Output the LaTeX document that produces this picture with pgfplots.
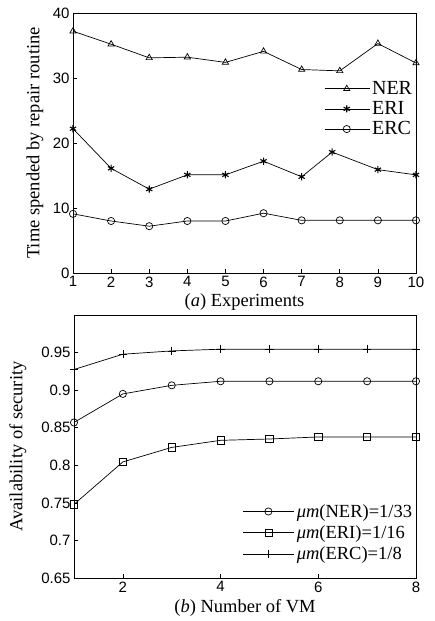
\documentclass[border=0pt]{standalone}
\usepackage{fontspec}
\setmainfont{Liberation Serif}
\newfontfamily\arial{Liberation Sans}
\usepackage{pgfplots}
\pgfplotsset{compat=1.18}

\newcommand\labfont{\fontsize{18.5}{19}\selectfont}
\pgfplotsset{panel/.style={
  scale only axis,
  axis line style={line width=0.9pt},
  tick align=inside, xtick pos=left, ytick pos=left,
  major tick length=4pt,
  tick style={line width=0.7pt, black},
  tick label style={font=\arial\fontsize{15}{15}\selectfont},
  /pgf/number format/assume math mode=true,
  legend style={draw=none, fill=none, inner sep=0pt},
  legend cell align={left},
  every axis plot/.append style={black, line width=0.7pt, mark size=3.6pt, mark options={solid, fill=white}},
  clip=false,
}}

\begin{document}
\begin{tikzpicture}[x=1pt, y=1pt]
\useasboundingbox (0,0) rectangle (435,621);

% (a) repair routine time
\begin{axis}[
  panel,
  at={(73pt,348pt)}, anchor=south west,
  width=343pt, height=260pt,
  xmin=1, xmax=10, ymin=0, ymax=40,
  xtick={1,2,...,10}, ytick={0,10,20,30,40},
  xlabel={(\textit{a}) Experiments},
  ylabel={Time spended by repair routine},
  every axis y label/.style={at={(axis description cs:-0.111,0.5)}, rotate=90, anchor=center, font=\labfont},
  every axis x label/.style={at={(axis description cs:0.5,-0.11)}, anchor=center, font=\labfont},
  legend style={at={(0.995,0.745)}, anchor=north east, row sep=1.5pt, font=\fontsize{20}{21}\selectfont},
  legend image code/.code={
    \draw[mark repeat=2, mark phase=2, #1] plot coordinates {(0pt,0pt) (22pt,0pt) (45pt,0pt)};},
]
\addplot[mark=triangle] coordinates {
  (1,37.2) (2,35.2) (3,33.1) (4,33.2) (5,32.4) (6,34.1) (7,31.3) (8,31.1) (9,35.3) (10,32.3)
};
\addlegendentry{NER}
\addplot[mark=asterisk, mark options={line width=1.1pt}] coordinates {
  (1,22.2) (2,16.1) (3,12.9) (4,15.1) (5,15.1) (6,17.2) (7,14.8) (7.8,18.6) (9,15.9) (10,15.1)
};
\addlegendentry{ERI}
\addplot[mark=o] coordinates {
  (1,9.1) (2,8.0) (3,7.2) (4,8.0) (5,8.0) (6,9.2) (7,8.1) (8,8.1) (9,8.1) (10,8.1)
};
\addlegendentry{ERC}
\end{axis}

% (b) availability of security
\begin{axis}[
  panel,
  at={(74pt,43pt)}, anchor=south west,
  width=342pt, height=263pt,
  xmin=1, xmax=8, ymin=0.65, ymax=1.0,
  xtick={2,4,6,8}, ytick={0.65,0.7,0.75,0.8,0.85,0.9,0.95},
  yticklabel style={/pgf/number format/fixed, /pgf/number format/precision=2},
  xlabel={(\textit{b}) Number of VM},
  ylabel={Availability of security},
  every axis y label/.style={at={(axis description cs:-0.164,0.5)}, rotate=90, anchor=center, font=\labfont},
  every axis x label/.style={at={(axis description cs:0.5,-0.114)}, anchor=center, font=\labfont},
  legend style={at={(0.995,0.055)}, anchor=south east, row sep=3pt, font=\fontsize{18.5}{19.5}\selectfont},
  legend image code/.code={
    \draw[mark repeat=2, mark phase=2, #1] plot coordinates {(0pt,0pt) (25pt,0pt) (51pt,0pt)};},
]
\addplot[mark=o] coordinates {
  (1,0.857) (2,0.895) (3,0.9064) (4,0.9118) (5,0.9118) (6,0.9118) (7,0.9118) (8,0.9118)
};
\addlegendentry{\textit{μm}(NER)=1/33}
\addplot[mark=square] coordinates {
  (1,0.748) (2,0.8045) (3,0.8238) (4,0.8332) (5,0.835) (6,0.8377) (7,0.8377) (8,0.8377)
};
\addlegendentry{\textit{μm}(ERI)=1/16}
\addplot[mark=+, mark size=4.2pt] coordinates {
  (1,0.9275) (2,0.9478) (3,0.9522) (4,0.9545) (5,0.9545) (6,0.9545) (7,0.9545) (8,0.9545)
};
\addlegendentry{\textit{μm}(ERC)=1/8}
\end{axis}
\end{tikzpicture}
\end{document}
